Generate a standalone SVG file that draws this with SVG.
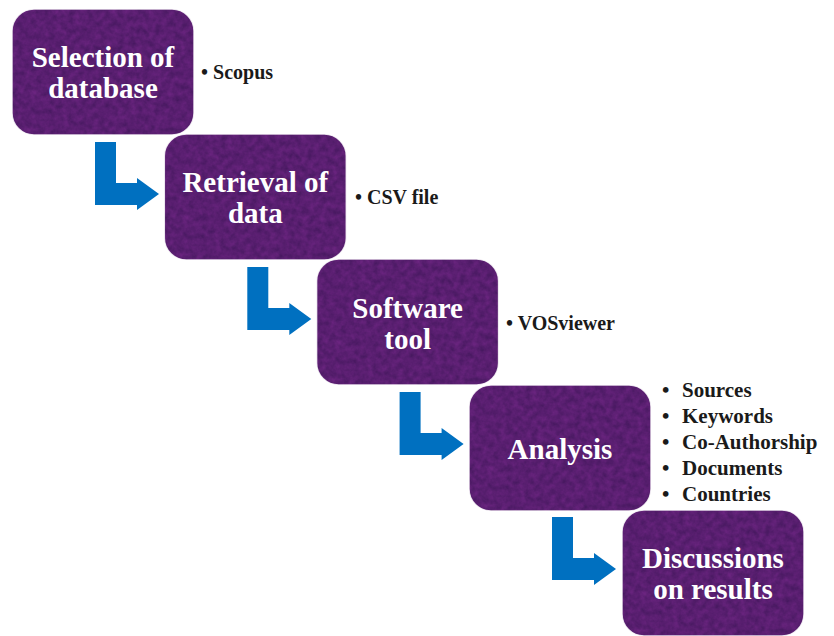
<svg xmlns="http://www.w3.org/2000/svg" width="834" height="636" viewBox="0 0 834 636">
  <defs>
    <!-- mottled purple fill for the step boxes -->
    <filter id="mottle" x="0" y="0" width="100%" height="100%" color-interpolation-filters="sRGB">
      <feTurbulence type="fractalNoise" baseFrequency="0.16" numOctaves="3" seed="7" result="noise"/>
      <feColorMatrix in="noise" type="matrix" values="0.18 0 0 0 0.26  0.06 0 0 0 0.09  0.16 0 0 0 0.36  0 0 0 0 1" result="tint"/>
      <feComposite in="tint" in2="SourceGraphic" operator="in"/>
    </filter>
    <rect id="box" width="182" height="126" rx="22" ry="22"/>
    <!-- bent step arrow -->
    <path id="bend" d="M95,142 H116 V183 H137 V178 L159,194 L137,210 V205 H95 Z"/>
  </defs>
  <style>
    .fill { fill: #5a1e70; filter: url(#mottle); }
    .edge { fill: none; stroke: #ffffff; stroke-width: 1.5; stroke-opacity: 0.85; }
    .title { font-family: "Liberation Serif", "Times New Roman", serif; font-weight: bold; font-size: 29px; fill: #ffffff; text-anchor: middle; }
    .note { font-family: "Liberation Serif", "Times New Roman", serif; font-weight: bold; font-size: 20px; fill: #1a1a1a; }
    .list { font-family: "Liberation Serif", "Times New Roman", serif; font-weight: bold; font-size: 21px; fill: #1a1a1a; }
    .arrow { fill: #0070c0; }
  </style>
  <rect width="834" height="636" fill="#ffffff"/>

  <g id="connectors">
    <use href="#bend" class="arrow"/>
    <use href="#bend" class="arrow" transform="translate(152.3,125)"/>
    <use href="#bend" class="arrow" transform="translate(304.6,250)"/>
    <use href="#bend" class="arrow" transform="translate(457,375)"/>
  </g>

  <g id="selection">
    <use href="#box" x="12" y="9" class="fill"/>
    <use href="#box" x="12" y="9" class="edge"/>
    <text class="title" x="103" y="67">Selection of</text>
    <text class="title" x="103" y="98">database</text>
    <text class="note" x="201" y="79">• Scopus</text>
  </g>

  <g id="retrieval">
    <use href="#box" x="164.3" y="134" class="fill"/>
    <use href="#box" x="164.3" y="134" class="edge"/>
    <text class="title" x="255.3" y="192">Retrieval of</text>
    <text class="title" x="255.3" y="223">data</text>
    <text class="note" x="355" y="204">• CSV file</text>
  </g>

  <g id="software">
    <use href="#box" x="316.6" y="259" class="fill"/>
    <use href="#box" x="316.6" y="259" class="edge"/>
    <text class="title" x="407.6" y="318">Software</text>
    <text class="title" x="407.6" y="349">tool</text>
    <text class="note" x="506" y="330">• VOSviewer</text>
  </g>

  <g id="analysis">
    <use href="#box" x="469" y="385" class="fill"/>
    <use href="#box" x="469" y="385" class="edge"/>
    <text class="title" x="560" y="459">Analysis</text>
    <g class="list">
      <text x="662" y="397">•</text><text x="682" y="397">Sources</text>
      <text x="662" y="423">•</text><text x="682" y="423">Keywords</text>
      <text x="662" y="449">•</text><text x="682" y="449">Co-Authorship</text>
      <text x="662" y="475">•</text><text x="682" y="475">Documents</text>
      <text x="662" y="501">•</text><text x="682" y="501">Countries</text>
    </g>
  </g>

  <g id="discussions">
    <use href="#box" x="622" y="510" class="fill"/>
    <use href="#box" x="622" y="510" class="edge"/>
    <text class="title" x="713" y="568">Discussions</text>
    <text class="title" x="713" y="599">on results</text>
  </g>
</svg>
